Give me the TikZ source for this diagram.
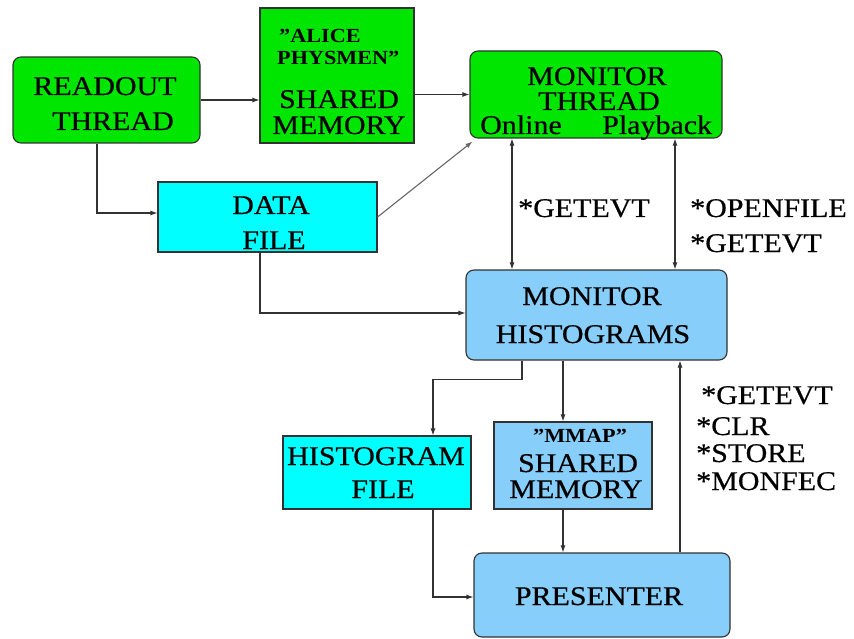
\documentclass[tikz,border=0pt]{standalone}
\usepackage{fontspec}
\setmainfont{Liberation Serif}
\newfontfamily\heavyserif{Liberation Serif}[FakeBold=0.5]
\usetikzlibrary{arrows.meta}
\definecolor{gbox}{RGB}{0,230,0}
\definecolor{cbox}{RGB}{0,255,255}
\definecolor{bbox}{RGB}{135,206,250}
\definecolor{edge}{RGB}{50,50,50}
\tikzset{
  boxbase/.style={draw=edge, line width=1.1pt, inner sep=0pt, anchor=center},
  greenbox/.style={boxbase, fill=gbox},
  cyanbox/.style={boxbase, fill=cbox},
  bluebox/.style={boxbase, fill=bbox},
  rnd/.style={rounded corners=8pt},
  wide/.style={xscale=1.11, transform shape},
  txt/.style={wide, anchor=base, inner sep=0pt, font=\heavyserif\fontsize{27}{29}\selectfont},
  txtl/.style={wide, anchor=base west, inner sep=0pt, font=\heavyserif\fontsize{27}{29}\selectfont},
  small/.style={wide, anchor=base west, inner sep=0pt, font=\fontsize{20}{22}\selectfont\bfseries},
  arr/.style={draw=edge, line width=1.1pt, -{Latex[length=7pt,width=5pt]}},
  dbl/.style={draw=edge, line width=1.1pt, {Latex[length=7pt,width=5pt]}-{Latex[length=7pt,width=5pt]}},
}
\begin{document}
\begin{tikzpicture}[x=1pt,y=-1pt]
\useasboundingbox (0,0) rectangle (854,639);
% boxes
\node[greenbox, rnd, minimum width=187pt, minimum height=86pt] (readout) at (106.5,100) {};
\node[greenbox, minimum width=154pt, minimum height=135pt] (alice) at (337,75.5) {};
\node[greenbox, rnd, minimum width=252pt, minimum height=87pt] (monthr) at (596,94.5) {};
\node[cyanbox, minimum width=219pt, minimum height=70pt] (datafile) at (267.5,217) {};
\node[bluebox, rnd, minimum width=261pt, minimum height=90pt] (monhist) at (596.5,315) {};
\node[cyanbox, minimum width=188pt, minimum height=73pt] (histfile) at (377,472.5) {};
\node[bluebox, minimum width=158pt, minimum height=87pt] (mmap) at (573,465.5) {};
\node[bluebox, rnd, minimum width=256pt, minimum height=84pt] (presenter) at (602,595) {};
% box texts
\node[txt] (t-readout1) at (105,95) {READOUT};
\node[txt] (t-readout2) at (113,130) {THREAD};
\node[small] (t-alice1) at (279,43) {"ALICE};
\node[small] (t-alice2) at (277,65) {PHYSMEN"};
\node[txt] (t-alice3) at (339,108) {SHARED};
\node[txt] (t-alice4) at (339,134) {MEMORY};
\node[txt] (t-monthr1) at (597,85) {MONITOR};
\node[txt] (t-monthr2) at (599,110) {THREAD};
\node[txtl] (t-online) at (480,134) {Online};
\node[txtl] (t-playback) at (602,134) {Playback};
\node[txt] (t-data1) at (271,214) {DATA};
\node[txt] (t-data2) at (274,249) {FILE};
\node[txt] (t-mh1) at (592,305) {MONITOR};
\node[txt] (t-mh2) at (593,343) {HISTOGRAMS};
\node[txt] (t-hf1) at (376,465) {HISTOGRAM};
\node[txt] (t-hf2) at (383,498) {FILE};
\node[small, anchor=base] (t-mmap1) at (580,442) {"MMAP"};
\node[txt] (t-mmap2) at (578,472) {SHARED};
\node[txt] (t-mmap3) at (576,498) {MEMORY};
\node[txt] (t-pres) at (599,605) {PRESENTER};
% side labels
\node[txtl] (l-get1) at (518,217) {*GETEVT};
\node[txtl] (l-open) at (690,217) {*OPENFILE};
\node[txtl] (l-get2) at (690,252) {*GETEVT};
\node[txtl] (l-get3) at (701,404) {*GETEVT};
\node[txtl] (l-clr) at (696,435) {*CLR};
\node[txtl] (l-store) at (696,462) {*STORE};
\node[txtl] (l-monfec) at (696,490) {*MONFEC};
% connectors
\draw[arr] (readout.east) -- (alice.west |- readout.east);
\draw[arr] (alice.east |- monthr.west) -- (monthr.west);
\draw[arr] ([xshift=-9.5pt]readout.south) |- ([yshift=4pt]datafile.west);
\draw[arr, draw=gray!80!black] (datafile.east) -- ([xshift=3pt,yshift=-3pt]monthr.south west);
\draw[dbl] ([xshift=-84pt]monthr.south) -- ([xshift=-84pt]monthr.south |- monhist.north);
\draw[dbl] ([xshift=79pt]monthr.south) -- ([xshift=79pt]monthr.south |- monhist.north);
\draw[arr] ([xshift=-7.5pt]datafile.south) |- ([yshift=2pt]monhist.west);
\draw[arr] ([xshift=-74.5pt]monhist.south) -- ++(0,19) -| ([xshift=56pt]histfile.north);
\draw[arr] ([xshift=-33.5pt]monhist.south) -- ([xshift=-33.5pt]monhist.south |- mmap.north);
\draw[arr] ([xshift=-10pt]mmap.south) -- ([xshift=-10pt]mmap.south |- presenter.north);
\draw[arr] ([xshift=56pt]histfile.south) |- ([yshift=-2pt]presenter.west);
\draw[arr] ([xshift=78pt]presenter.north) -- ([xshift=78pt]presenter.north |- monhist.south);
\end{tikzpicture}
\end{document}
